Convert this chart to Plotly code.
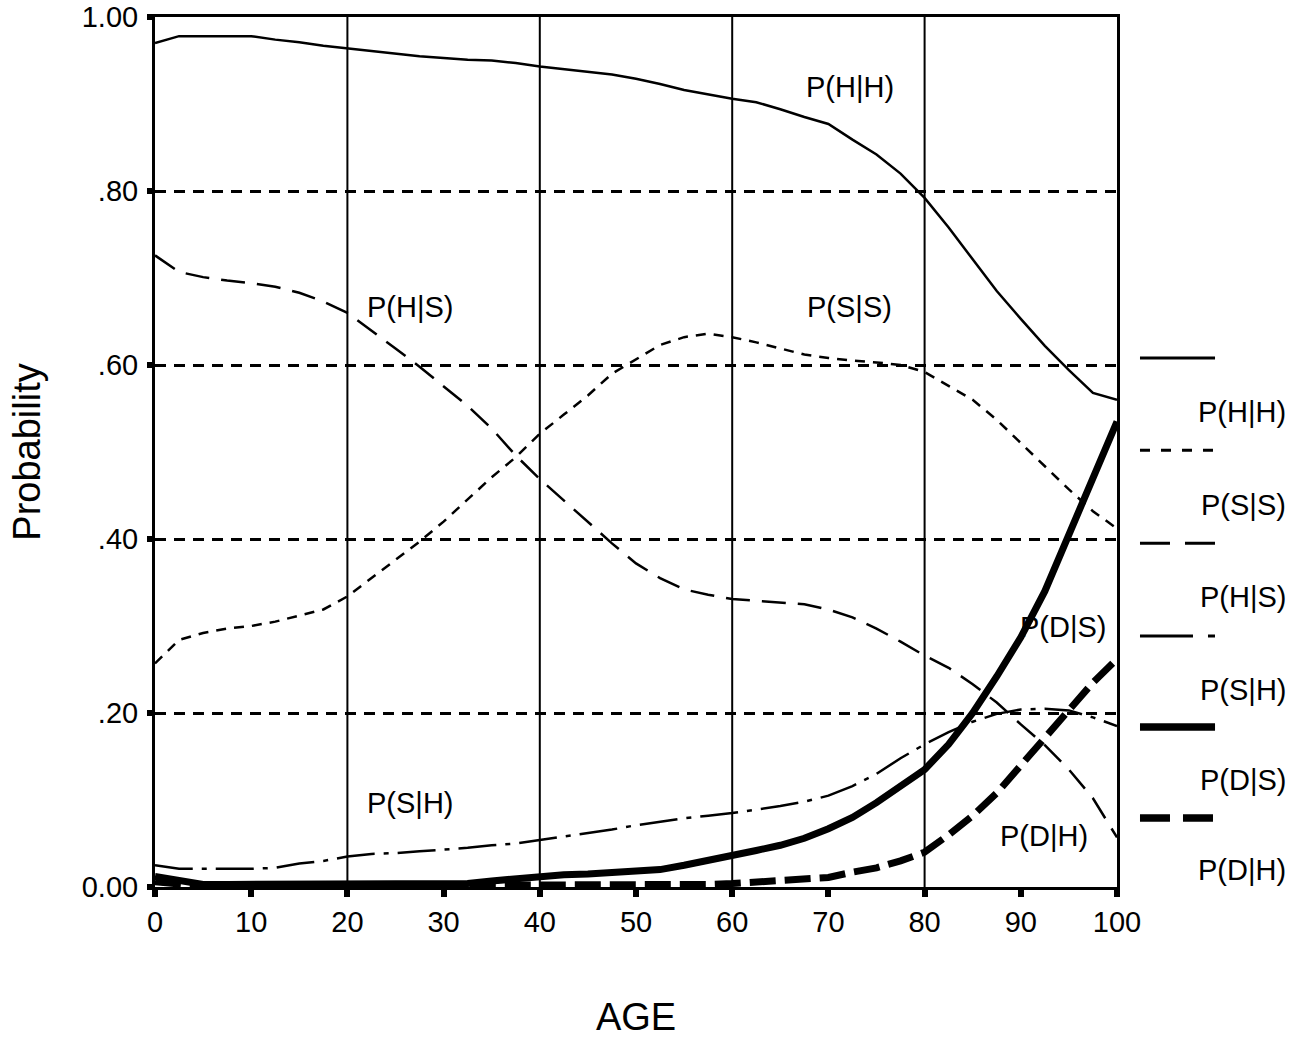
import plotly.graph_objects as go

# ---------------- data ----------------
ages = [0, 2.5, 5, 7.5, 10, 12.5, 15, 17.5, 20, 22.5, 25, 27.5, 30, 32.5, 35, 37.5,
        40, 42.5, 45, 47.5, 50, 52.5, 55, 57.5, 60, 62.5, 65, 67.5, 70, 72.5, 75,
        77.5, 80, 82.5, 85, 87.5, 90, 92.5, 95, 97.5, 100]

p_hh = [0.970, 0.978, 0.978, 0.978, 0.978, 0.974, 0.971, 0.967, 0.964, 0.961, 0.958,
        0.955, 0.953, 0.951, 0.950, 0.947, 0.943, 0.940, 0.937, 0.934, 0.929, 0.923,
        0.916, 0.911, 0.906, 0.902, 0.894, 0.885, 0.877, 0.859, 0.842, 0.820, 0.792,
        0.758, 0.722, 0.685, 0.653, 0.622, 0.594, 0.568, 0.560]

p_ss = [0.257, 0.284, 0.292, 0.297, 0.300, 0.305, 0.312, 0.319, 0.334, 0.355, 0.375,
        0.397, 0.420, 0.445, 0.471, 0.494, 0.521, 0.543, 0.565, 0.590, 0.607, 0.623,
        0.632, 0.636, 0.632, 0.626, 0.619, 0.612, 0.608, 0.605, 0.603, 0.600, 0.592,
        0.576, 0.560, 0.537, 0.510, 0.483, 0.457, 0.432, 0.412]

p_hs = [0.726, 0.707, 0.701, 0.697, 0.694, 0.690, 0.683, 0.673, 0.660, 0.640, 0.619,
        0.598, 0.575, 0.553, 0.527, 0.496, 0.469, 0.444, 0.420, 0.395, 0.372, 0.355,
        0.342, 0.336, 0.331, 0.329, 0.327, 0.325, 0.319, 0.310, 0.297, 0.282, 0.266,
        0.252, 0.233, 0.212, 0.187, 0.163, 0.135, 0.102, 0.057]

p_sh = [0.025, 0.021, 0.021, 0.021, 0.021, 0.022, 0.027, 0.030, 0.035, 0.038, 0.039,
        0.041, 0.043, 0.045, 0.048, 0.050, 0.054, 0.058, 0.062, 0.066, 0.071, 0.075,
        0.079, 0.082, 0.085, 0.089, 0.093, 0.098, 0.105, 0.116, 0.130, 0.148, 0.164,
        0.178, 0.190, 0.199, 0.204, 0.205, 0.203, 0.195, 0.185]

p_ds = [0.012, 0.008, 0.003, 0.003, 0.003, 0.003, 0.003, 0.003, 0.003, 0.003, 0.003,
        0.003, 0.003, 0.004, 0.007, 0.010, 0.013, 0.014, 0.015, 0.016, 0.017, 0.020,
        0.025, 0.030, 0.037, 0.042, 0.048, 0.056, 0.067, 0.080, 0.097, 0.115, 0.135,
        0.164, 0.200, 0.242, 0.287, 0.340, 0.405, 0.470, 0.535]

p_dh = [0.006, 0.003, 0.001, 0.001, 0.001, 0.001, 0.001, 0.001, 0.001, 0.001, 0.001,
        0.001, 0.001, 0.001, 0.001, 0.001, 0.001, 0.002, 0.002, 0.002, 0.002, 0.002,
        0.003, 0.003, 0.004, 0.006, 0.007, 0.009, 0.011, 0.017, 0.022, 0.030, 0.040,
        0.060, 0.082, 0.108, 0.140, 0.172, 0.205, 0.235, 0.262]

series_names = ["P(H|H)", "P(S|S)", "P(H|S)", "P(S|H)", "P(D|S)", "P(D|H)"]
series_values = [p_hh, p_ss, p_hs, p_sh, p_ds, p_dh]

x_ticks = [0, 10, 20, 30, 40, 50, 60, 70, 80, 90, 100]
y_ticks = [0.0, 0.2, 0.4, 0.6, 0.8, 1.0]
y_tick_labels = ["0.00", ".20", ".40", ".60", ".80", "1.00"]
vertical_grid_ages = [20, 40, 60, 80]

# ---------------- styles ----------------
FONT = "Liberation Sans, Arial, Helvetica, sans-serif"
line_styles = [
    dict(width=2.5, dash="solid"),
    dict(width=2.5, dash="10px,8px"),
    dict(width=2.5, dash="24px,12px"),
    dict(width=2.5, dash="38px,9px,5px,9px"),
    dict(width=7, dash="solid"),
    dict(width=7, dash="26px,9px"),
]
legend_dash = ["solid", "10px,11px", "30px,15px", "53px,15px,7px", "solid", "30px,13px"]

fig = go.Figure()
for name, vals, st in zip(series_names, series_values, line_styles):
    fig.add_trace(go.Scatter(
        x=ages, y=vals, mode="lines", name=name, showlegend=False,
        line=dict(color="black", width=st["width"], dash=st["dash"]),
    ))

# vertical solid grid lines
for a in vertical_grid_ages:
    fig.add_shape(type="line", xref="x", yref="y domain", x0=a, x1=a, y0=0, y1=1,
                  line=dict(color="black", width=2), layer="below")

# in-plot labels
inplot_labels = [
    ("P(H|H)", 72.2, 0.920),
    ("P(S|S)", 72.2, 0.667),
    ("P(H|S)", 26.5, 0.667),
    ("P(S|H)", 26.5, 0.097),
    ("P(D|S)", 94.4, 0.299),
    ("P(D|H)", 92.4, 0.059),
]
for txt, xx, yy in inplot_labels:
    fig.add_annotation(x=xx, y=yy, xref="x", yref="y", text=txt, showarrow=False,
                       font=dict(family=FONT, size=29, color="black"),
                       xanchor="center", yanchor="middle")

# manual legend on the right
leg_line_y = [0.608, 0.502, 0.395, 0.2885, 0.184, 0.0793]
leg_text_y = [0.546, 0.439, 0.333, 0.226, 0.123, 0.0195]
for name, st, dsh, ly, ty in zip(series_names, line_styles, legend_dash, leg_line_y, leg_text_y):
    fig.add_shape(type="line", xref="paper", yref="paper", x0=1.0239, x1=1.1019,
                  y0=ly, y1=ly, line=dict(color="black", width=st["width"] + 0.5, dash=dsh))
    fig.add_annotation(x=1.178, y=ty, xref="paper", yref="paper", text=name,
                       showarrow=False, xanchor="right", yanchor="middle",
                       font=dict(family=FONT, size=29, color="black"))

fig.update_layout(
    width=1300, height=1038, autosize=False,
    margin=dict(l=155, r=183, t=17, b=151, autoexpand=False),
    plot_bgcolor="white", paper_bgcolor="white",
    font=dict(family=FONT, size=29, color="black"),
    showlegend=False,
)
fig.update_xaxes(
    range=[0, 100], tickvals=x_ticks, ticktext=[str(t) for t in x_ticks],
    showgrid=False, zeroline=False, automargin=False,
    showline=True, linecolor="black", linewidth=3, mirror=True,
    ticks="outside", ticklen=7, tickwidth=6, tickcolor="black",
    ticklabeloverflow="allow",
    tickfont=dict(family=FONT, size=29, color="black"),
    title=dict(text="AGE", font=dict(family=FONT, size=38, color="black"), standoff=75),
)
fig.update_yaxes(
    range=[0, 1], tickvals=y_ticks, ticktext=y_tick_labels,
    showgrid=True, gridcolor="black", gridwidth=2.5, griddash="11px,8px",
    zeroline=False, automargin=False,
    showline=True, linecolor="black", linewidth=3, mirror=True,
    ticks="outside", ticklen=5, tickwidth=6, tickcolor="black",
    ticklabelstandoff=3, ticklabeloverflow="allow",
    tickfont=dict(family=FONT, size=29, color="black"),
    title=dict(text="Probability", font=dict(family=FONT, size=38, color="black"), standoff=30),
)

# remove the page's default 8px body margin so the figure sits at the window origin
fig.write_html("out.html", config={"displayModeBar": False},
               post_script="document.body.style.margin='0';")
